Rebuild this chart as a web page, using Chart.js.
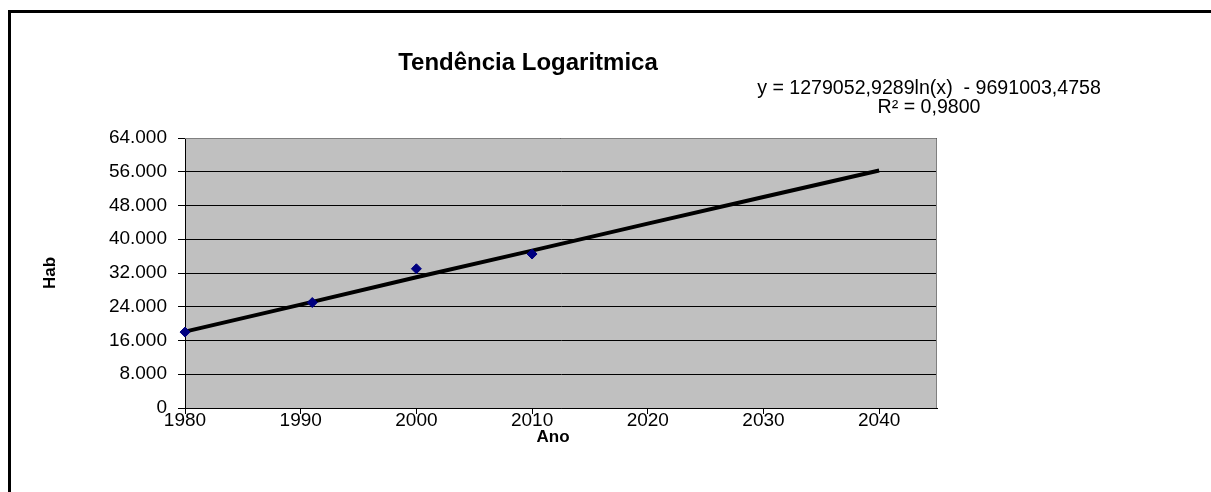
<!DOCTYPE html>
<html>
<head>
<meta charset="utf-8">
<script src="https://cdn.jsdelivr.net/npm/chart.js@4/dist/chart.umd.min.js"></script>
<style>
  body { margin: 0; background: #fff; }
</style>
</head>
<body>
<canvas id="myChart" width="1211" height="492"></canvas>
<script>
// observed population
const years = [1980, 1991, 2000, 2010];
const hab = [18000, 25000, 33000, 36500];

// trend line
const trendYears = [1980, 1990, 2000, 2010, 2020, 2030, 2040];
const trendHab = [18100, 24500, 31000, 37300, 43700, 50000, 56300];

const titleText = 'Tendência Logaritmica';
const equationText = 'y = 1279052,9289ln(x)  - 9691003,4758';
const r2Text = 'R² = 0,9800';

const canvas = document.getElementById('myChart');
const ctx = canvas.getContext('2d');

function fmtThousands(v) {
    if (v === 0) return '0';
    return (v / 1000) + '.000';
}

const excelLook = {
    id: 'excelLook',
    beforeDraw(chart) {
        const c = chart.ctx;
        const a = chart.chartArea;
        c.save();
        c.fillStyle = '#fff';
        c.fillRect(0, 0, chart.width, chart.height);
        c.fillStyle = '#c0c0c0';
        c.fillRect(a.left, a.top, a.right - a.left, a.bottom - a.top);
        c.restore();
    },
    afterDraw(chart) {
        const c = chart.ctx;
        const a = chart.chartArea;
        c.save();
        // plot area border (top / right)
        c.strokeStyle = '#808080';
        c.lineWidth = 1;
        c.beginPath();
        c.moveTo(a.left, a.top + 0.5);
        c.lineTo(a.right - 0.5, a.top + 0.5);
        c.lineTo(a.right - 0.5, a.bottom);
        c.stroke();
        // outer frame
        c.fillStyle = '#000';
        c.fillRect(8, 10, chart.width - 8, 3);
        c.fillRect(8, 10, 3, chart.height - 10);
        // title, equation and x axis name
        c.fillStyle = '#000';
        c.textAlign = 'center';
        c.textBaseline = 'alphabetic';
        c.font = 'bold 24px "Liberation Sans", Arial, sans-serif';
        c.fillText(titleText, 528, 70);
        c.font = '19.6px "Liberation Sans", Arial, sans-serif';
        c.fillText(equationText, 929, 94);
        c.fillText(r2Text, 929, 113);
        c.font = 'bold 17px "Liberation Sans", Arial, sans-serif';
        c.textBaseline = 'middle';
        c.fillText('Ano', 553, 437);
        c.restore();
    }
};

const chart = new Chart(ctx, {
    type: 'scatter',
    data: {
        datasets: [
            {
                label: 'Tendência',
                data: trendYears.map((x, i) => ({x: x, y: trendHab[i]})),
                showLine: true,
                borderColor: '#000',
                borderWidth: 4,
                pointRadius: 0,
                tension: 0,
                clip: false,
                order: 2
            },
            {
                label: 'Hab',
                data: years.map((x, i) => ({x: x, y: hab[i]})),
                pointStyle: 'rectRot',
                pointRadius: 5,
                backgroundColor: '#000080',
                borderColor: '#000080',
                clip: false,
                order: 1
            }
        ]
    },
    plugins: [excelLook],
    options: {
        responsive: false,
        animation: false,
        layout: {
            padding: {left: 0, right: 274, top: 138, bottom: 0}
        },
        plugins: {
            legend: {display: false},
            title: {display: false},
            tooltip: {enabled: false}
        },
        scales: {
            x: {
                type: 'linear',
                min: 1980,
                max: 2045,
                afterFit(scale) { scale.height = 84; },
                ticks: {
                    stepSize: 10,
                    includeBounds: false,
                    color: '#000',
                    padding: -5,
                    maxRotation: 0,
                    font: {family: '"Liberation Sans", Arial, sans-serif', size: 19},
                    callback: v => String(v)
                },
                grid: {
                    drawOnChartArea: false,
                    drawTicks: true,
                    tickLength: 6,
                    color: '#000'
                },
                border: {color: '#000', width: 1}
            },
            y: {
                min: 0,
                max: 64000,
                afterFit(scale) { scale.width = 185; },
                ticks: {
                    stepSize: 8000,
                    color: '#000',
                    padding: 11,
                    font: {family: '"Liberation Sans", Arial, sans-serif', size: 19},
                    callback: v => fmtThousands(v)
                },
                grid: {
                    color: '#000',
                    drawTicks: true,
                    tickLength: 7
                },
                border: {color: '#000', width: 1},
                title: {
                    display: true,
                    text: 'Hab',
                    color: '#000',
                    font: {family: '"Liberation Sans", Arial, sans-serif', size: 17, weight: 'bold'},
                    padding: {top: 40, bottom: 0}
                }
            }
        }
    }
});
</script>
</body>
</html>
